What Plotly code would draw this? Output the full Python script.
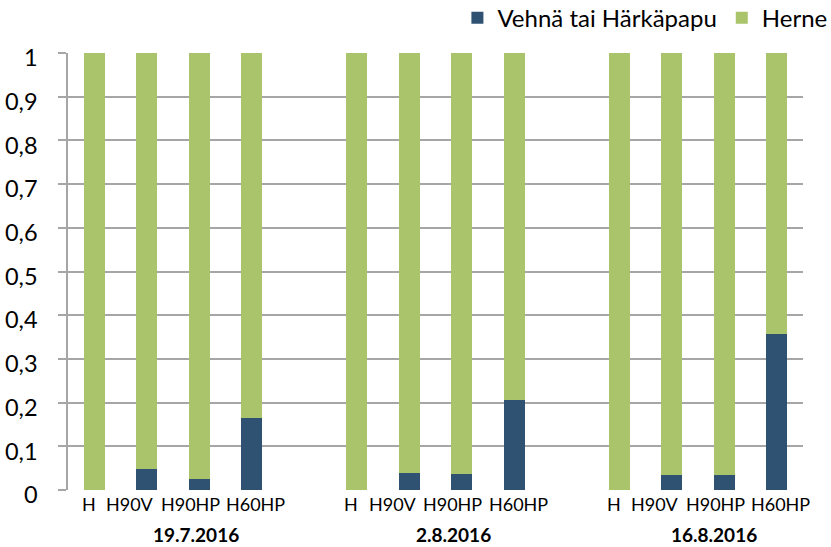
import plotly.graph_objects as go

groups = ["19.7.2016", "2.8.2016", "16.8.2016"]
treatments = ["H", "H90V", "H90HP", "H60HP"]
vehna = [0.0, 0.049, 0.026, 0.164,
         0.0, 0.040, 0.037, 0.205,
         0.0, 0.035, 0.035, 0.358]
herne = [round(1 - v, 3) for v in vehna]
y_ticks = [0, 0.1, 0.2, 0.3, 0.4, 0.5, 0.6, 0.7, 0.8, 0.9, 1]
y_tick_text = ["0", "0,1", "0,2", "0,3", "0,4", "0,5", "0,6", "0,7", "0,8", "0,9", "1"]

# slot positions: 4 bars per group followed by an empty slot
xpos = []
labels = []
for gi, g in enumerate(groups):
    for ti, t in enumerate(treatments):
        xpos.append(gi * 5 + ti)
        labels.append(t)

FONT = "Lato, 'Liberation Sans', sans-serif"
BLUE = "#2F5273"
GREEN = "#AAC46B"

fig = go.Figure()
fig.add_bar(x=xpos, y=vehna, name="Vehnä tai Härkäpapu", marker_color=BLUE,
            marker_line_width=0, width=0.4)
fig.add_bar(x=xpos, y=herne, name="Herne", marker_color=GREEN,
            marker_line_width=0, width=0.4)

# category labels (Excel spreads them slightly around the bars)
label_shift = {"H": -5.5, "H90V": -16.5, "H90HP": -9, "H60HP": 4}
for x, lab in zip(xpos, labels):
    fig.add_annotation(x=x, y=0, xref="x", yref="paper", yshift=-14, xshift=label_shift[lab],
                       text=lab, showarrow=False,
                       font=dict(size=18, color="#000000", family=FONT),
                       yanchor="middle", xanchor="center")

group_centers = [1.94, 6.85, 11.8]
for g, c in zip(groups, group_centers):
    fig.add_annotation(x=c, y=0, xref="x", yref="paper", yshift=-44, text="<b>" + g + "</b>",
                       showarrow=False, font=dict(size=19, color="#000000", family=FONT),
                       yanchor="middle", xanchor="center")

fig.update_layout(
    barmode="stack",
    width=831, height=547,
    margin=dict(l=68, r=28, t=53, b=57, autoexpand=False),
    plot_bgcolor="white", paper_bgcolor="white",
    font=dict(family=FONT, color="#000000"),
    legend=dict(orientation="h", x=1.04, xanchor="right", y=1.08, yanchor="middle",
                font=dict(size=24, family=FONT), traceorder="normal",
                itemwidth=30, bgcolor="rgba(0,0,0,0)", tracegroupgap=0),
    showlegend=True,
)
fig.update_xaxes(range=[-0.5, 13.5], showticklabels=False, showgrid=False,
                 zeroline=False, showline=False, ticks="")
fig.update_yaxes(range=[0, 1], tickmode="array", tickvals=y_ticks, ticktext=y_tick_text,
                 tickfont=dict(size=23.5, family=FONT), showgrid=True, gridcolor="#A6A6A6",
                 gridwidth=1.5, zeroline=False, showline=True, linecolor="#A6A6A6",
                 linewidth=1.5, ticks="outside", ticklen=8, tickcolor="#A6A6A6", tickwidth=1.5,
                 ticklabelstandoff=16, ticklabelshift=5)

fig.write_html("out.html", config={"displayModeBar": False},
               post_script="document.body.style.margin='0';document.body.style.padding='0';")
